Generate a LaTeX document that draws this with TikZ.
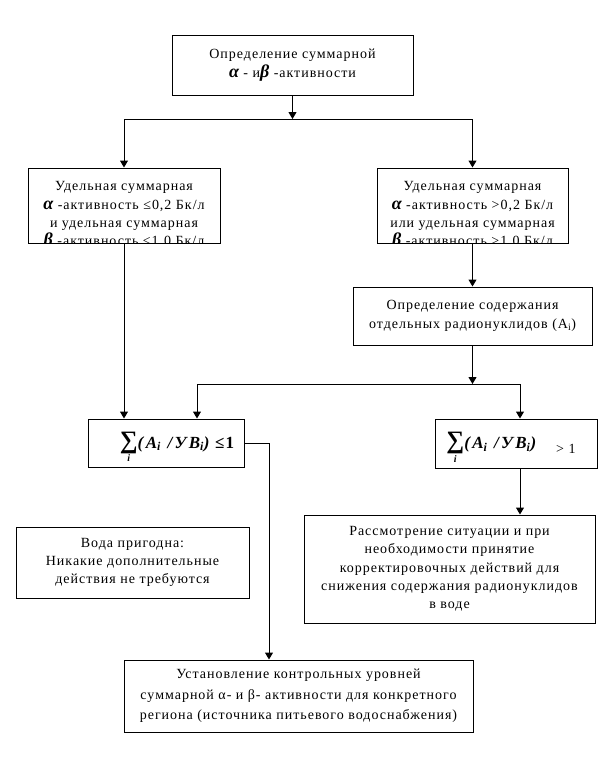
\documentclass[tikz,border=0pt]{standalone}
\usepackage{fontspec}
\setmainfont{Liberation Serif}[LetterSpace=7]
\usetikzlibrary{arrows.meta}
\newcommand\galpha{{\fontsize{18}{18}\selectfont\bfseries\itshape α}}
\newcommand\gbeta{{\fontsize{18}{18}\selectfont\bfseries\itshape β}}
\newcommand\sumi{$\mathop{\hbox{\fontsize{25}{25}\selectfont\bfseries ∑}}\limits_{\hbox{\fontsize{10}{10}\selectfont\bfseries\itshape i}}$}
\newcommand\ratio{{\fontsize{17}{17}\selectfont\addfontfeatures{LetterSpace=14}\bfseries\itshape (A\textsubscript{i} /УВ\textsubscript{i})}}
\begin{document}
\begin{tikzpicture}[x=1pt,y=-1pt,
  box/.style={draw,line width=1pt,inner sep=0pt,align=center,font=\fontsize{14}{18.3}\selectfont},
  txt/.style={inner sep=0pt,align=center,font=\fontsize{14}{18.3}\selectfont},
  arr/.style={line width=1pt,-{Triangle[length=7pt,width=8pt]}}]
\useasboundingbox[fill=white] (0,0) rectangle (612,780);

\node[box,minimum width=241pt,minimum height=60pt] (top) at (292.5,65)
  {Определение суммарной\\\galpha{} - и\gbeta{} -активности};

\node[box,minimum width=192pt,minimum height=75pt] (L1) at (124,205.5) {};
\begin{scope}
  \clip (L1.south west) rectangle (L1.north east);
  \node[txt] (L1t) at (124,215.5) {Удельная суммарная\\\galpha{} -активность ≤0,2 Бк/л\\и удельная суммарная\\\gbeta{} -активность ≤1,0 Бк/л};
\end{scope}

\node[box,minimum width=191pt,minimum height=75pt] (R1) at (472.5,205.5) {};
\begin{scope}
  \clip (R1.south west) rectangle (R1.north east);
  \node[txt] (R1t) at (472.5,215.5) {Удельная суммарная\\\galpha{} -активность >0,2 Бк/л\\или удельная суммарная\\\gbeta{} -активность >1,0 Бк/л};
\end{scope}

\node[box,minimum width=239pt,minimum height=58pt] (Mid) at (472.5,316)
  {Определение содержания\\отдельных радионуклидов (A\textsubscript{i})};

\node[box,minimum width=156pt,minimum height=48pt] (SumL) at (166,443)
  {\raisebox{-5pt}[0pt][0pt]{\hspace*{22pt}\sumi\ratio{\fontsize{17}{17}\selectfont\bfseries{} ≤1}}};

\node[box,minimum width=162pt,minimum height=49pt] (SumR) at (516,443.5)
  {\raisebox{-5pt}[0pt][0pt]{\sumi\ratio\hspace*{20pt}\raisebox{-5pt}{\fontsize{14}{14}\selectfont> 1}\hspace*{10pt}}};

\node[box,minimum width=233pt,minimum height=71pt] (Voda) at (132.5,562.5)
  {Вода пригодна:\\Никакие дополнительные\\действия не требуются};

\node[box,minimum width=291pt,minimum height=108pt] (Rass) at (449.5,569)
  {Рассмотрение ситуации и при\\необходимости принятие\\корректировочных действий для\\снижения содержания радионуклидов\\в воде};

\node[box,minimum width=349pt,minimum height=72pt,font=\fontsize{14}{20.5}\selectfont] (Bot) at (298.5,696)
  {Установление контрольных уровней\\суммарной α- и β- активности для конкретного\\региона (источника питьевого водоснабжения)};

\coordinate (j1) at (292.5,119);
\coordinate (j2) at (472.5,384);
\draw[arr] (top.south) -- (j1);
\draw[arr] (j1) -| (L1.north);
\draw[arr] (j1) -| (R1.north);
\draw[arr] (R1.south) -- (Mid.north);
\draw[arr] (Mid.south) -- (j2);
\draw[arr] (j2) -| ([xshift=31pt]SumL.north);
\draw[arr] (j2) -| ([xshift=4pt]SumR.north);
\draw[arr] (L1.south) -- (L1.south |- SumL.north);
\draw[arr] ([xshift=4pt]SumR.south) -- ([xshift=4pt]SumR.south |- Rass.north);
\draw[arr] (SumL.east) -| ([xshift=-29.5pt]Bot.north);
\end{tikzpicture}
\end{document}
